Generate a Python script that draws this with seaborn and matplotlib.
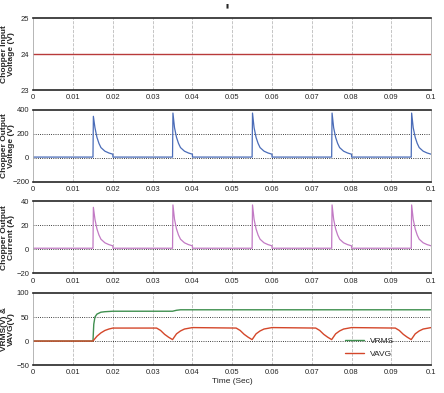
import numpy as np
import pandas as pd
import matplotlib.pyplot as plt
import seaborn as sns

# valores
x_ticks = [0, 0.01, 0.02, 0.03, 0.04, 0.05, 0.06, 0.07, 0.08, 0.09, 0.1]
x_tick_labels = ['0', '0.01', '0.02', '0.03', '0.04', '0.05', '0.06', '0.07', '0.08', '0.09', '0.1']

# panel 1: tensión de entrada
vin_t = [0, 0.1]
vin = [24, 24]

# pulsos del chopper
pulse_starts = [0.015, 0.035, 0.055, 0.075, 0.095]
pulse_dt = [0, 0.0001, 0.0005, 0.001, 0.0015, 0.002, 0.003, 0.004, 0.005]
vout_base = 6
vout_pulse = [6, 345, 250, 170, 120, 85, 55, 40, 30]
vout_peaks = [345, 372, 372, 372, 372]
iout_base = 1
iout_pulse = [1, 35, 25, 17, 12, 8.5, 5.5, 4, 3]
iout_peaks = [35, 37, 37, 37, 37]

# panel 4
vrms_t = [0, 0.015, 0.0152, 0.0155, 0.016, 0.017, 0.018, 0.02, 0.035, 0.036, 0.037, 0.1]
vrms = [0, 0, 35, 50, 56, 60, 61, 62, 62, 64, 65, 65]

vavg_rise_t = [0, 0.015, 0.0155, 0.016, 0.017, 0.018, 0.019, 0.02]
vavg_rise = [0, 0, 5, 10, 17, 22, 25, 27]
dip_starts = [0.031, 0.051, 0.071, 0.091]
dip_dt = [0, 0.001, 0.002, 0.003, 0.004, 0.005, 0.006, 0.007, 0.009]
dip_vals = [27, 22, 14, 8, 3, 15, 21, 25, 28]
vavg_end = 28


def pulse_train(base, shape, peaks):
    tt, yy = [0], [base]
    for s, pk in zip(pulse_starts, peaks):
        vals = list(shape)
        vals[1] = pk
        for d, v in zip(pulse_dt, vals):
            if s + d <= 0.1:
                tt.append(s + d)
                yy.append(v)
        if s + pulse_dt[-1] < 0.1:
            tt.append(s + pulse_dt[-1] + 1e-5)
            yy.append(base)
    if tt[-1] < 0.1:
        tt.append(0.1)
        yy.append(base)
    return tt, yy


vout_t, vout = pulse_train(vout_base, vout_pulse, vout_peaks)
iout_t, iout = pulse_train(iout_base, iout_pulse, iout_peaks)

vavg_t, vavg = list(vavg_rise_t), list(vavg_rise)
for s in dip_starts:
    for d, v in zip(dip_dt, dip_vals):
        if s + d <= 0.1:
            vavg_t.append(s + d)
            vavg.append(v)
vavg_t.append(0.1)
vavg.append(vavg_end)

sns.set_theme(style="white")
plt.rcParams['font.family'] = ['Liberation Sans Narrow', 'Liberation Sans', 'DejaVu Sans']

fig, axes = plt.subplots(4, 1, figsize=(4.44, 3.93), dpi=100)
fig.subplots_adjust(left=0.075, right=0.971, top=0.954, bottom=0.071, hspace=0.27)

paneles = [
    ('Chopper Input\nVoltage (V)', [23, 24, 25], []),
    ('Chopper Output\nVoltage (V)', [-200, 0, 200, 400], [0, 200]),
    ('Chopper Output\nCurrent (A)', [-20, 0, 20, 40], [0, 20]),
    ('VRMS(V) &\nVAVG(V)', [-50, 0, 50, 100], [0, 50]),
]

sns.lineplot(x=vin_t, y=vin, ax=axes[0], color='#b83a3a', linewidth=1.0)
sns.lineplot(x=vout_t, y=vout, ax=axes[1], color='#4a6cb8', linewidth=0.9)
sns.lineplot(x=iout_t, y=iout, ax=axes[2], color='#c27ac4', linewidth=0.9)
sns.lineplot(x=vrms_t, y=vrms, ax=axes[3], color='#3f8f4f', linewidth=1.0, label='VRMS')
sns.lineplot(x=vavg_t, y=vavg, ax=axes[3], color='#d4472a', linewidth=1.0, label='VAVG')

for ax, (lab, yt, hgrid) in zip(axes, paneles):
    ax.set_xlim(0, 0.1)
    ax.set_ylim(yt[0], yt[-1])
    ax.set_xticks(x_ticks)
    ax.set_xticklabels(x_tick_labels)
    ax.set_yticks(yt)
    ax.tick_params(axis='both', labelsize=5.5, length=2, pad=1)
    ax.set_ylabel(lab, fontsize=6, fontweight='bold', linespacing=0.9)
    ax.yaxis.set_label_coords(-0.047, 0.5)
    for xv in x_ticks[1:-1]:
        ax.axvline(xv, color='#bbbbbb', linestyle='--', linewidth=0.6, zorder=0)
    for yv in hgrid:
        ax.axhline(yv, color='black', linestyle=':', linewidth=0.6, zorder=0)
    ax.spines['top'].set_linewidth(1.2)
    ax.spines['bottom'].set_linewidth(1.2)
    ax.spines['left'].set_color('#aaaaaa')
    ax.spines['right'].set_color('#aaaaaa')
    ax.spines['left'].set_linewidth(0.6)
    ax.spines['right'].set_linewidth(0.6)

axes[3].set_xlabel('Time (Sec)', fontsize=6, labelpad=1)
axes[3].legend(loc='lower left', bbox_to_anchor=(0.77, 0.02), frameon=False, fontsize=6,
               handlelength=2.2, labelspacing=0.6, borderpad=0.2)

# pequeña marca negra arriba, como en el original
fig.text(0.512, 0.985, '▮', fontsize=4, family=['DejaVu Sans'], ha='center', va='center')

plt.savefig('out.png', dpi=100)
